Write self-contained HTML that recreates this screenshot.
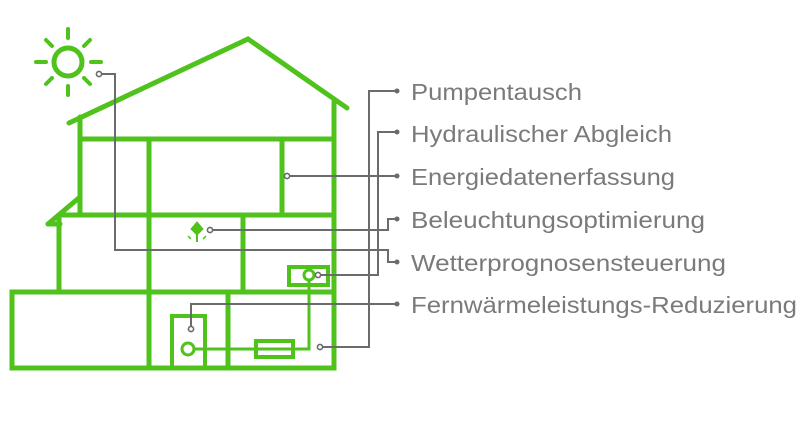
<!DOCTYPE html>
<html><head><meta charset="utf-8"><style>
html,body{margin:0;padding:0;background:#fff;}
svg{display:block;}
text{font-family:"Liberation Sans",sans-serif;font-size:23px;fill:#7a7a7a;}
</style></head><body>
<svg width="809" height="433" viewBox="0 0 809 433" xmlns="http://www.w3.org/2000/svg">
<g stroke="#4fc21c" stroke-width="5" fill="none" stroke-linecap="round">
  <circle cx="68" cy="62" r="14"/>
  <g stroke-width="4">
  <line x1="68" y1="29" x2="68" y2="38"/><line x1="68" y1="86" x2="68" y2="95"/>
  <line x1="36" y1="62" x2="46" y2="62"/><line x1="91" y1="62" x2="101" y2="62"/>
  <line x1="46" y1="40" x2="52" y2="46"/><line x1="84" y1="78" x2="90" y2="84"/>
  <line x1="46" y1="84" x2="52" y2="78"/><line x1="84" y1="46" x2="90" y2="40"/>
  </g>
  <polyline points="69,123 248,39 347,108"/>
  <line x1="334" y1="102" x2="334" y2="368"/>
  <line x1="80" y1="117" x2="80" y2="215"/>
  <line x1="80" y1="139" x2="334" y2="139"/>
  <line x1="60" y1="215" x2="334" y2="215"/>
  <line x1="149" y1="139" x2="149" y2="368"/>
  <line x1="282" y1="139" x2="282" y2="215"/>
  <line x1="59" y1="215" x2="59" y2="292"/>
  <polyline points="48,224 80,197"/>
  <line x1="48" y1="224" x2="60" y2="224"/>
  <line x1="243" y1="215" x2="243" y2="292"/>
  <rect x="12" y="292" width="322" height="76"/>
  <line x1="228" y1="292" x2="228" y2="368"/>
  <rect x="172" y="316" width="33" height="52" stroke-width="4"/>
  <circle cx="188" cy="349" r="6" stroke-width="3"/>
  <rect x="256" y="341" width="37" height="16" stroke-width="4"/>
  <polyline points="194,349 309,349 309,280" stroke-width="3"/>
  <rect x="289" y="267" width="39" height="18" stroke-width="4"/>
  <circle cx="309" cy="275" r="5" stroke-width="3"/>
</g>
<g fill="#4fc21c" stroke="#4fc21c">
  <polygon points="197,222 203,229 197,235 191,229" stroke-width="1"/>
  <line x1="197" y1="235" x2="197" y2="242" stroke-width="2"/>
  <line x1="188" y1="236" x2="191" y2="239" stroke-width="1.5"/>
  <line x1="206" y1="236" x2="203" y2="239" stroke-width="1.5"/>
</g>
<g stroke="#6b6b6b" stroke-width="2" fill="none">
  <polyline points="323,347 369,347 369,91 397,91"/>
  <polyline points="321,275 378,275 378,132 397,132"/>
  <polyline points="290,176 397,176"/>
  <polyline points="213,230 388,230 388,219 397,219"/>
  <polyline points="102,74 115,74 115,250 388,250 388,262 397,262"/>
  <polyline points="191,326 191,304 397,304"/>
</g>
<g stroke="#6b6b6b" stroke-width="1.6" fill="#fff">
  <circle cx="320" cy="347" r="2.6"/>
  <circle cx="318" cy="275" r="2.6"/>
  <circle cx="287" cy="176" r="2.6"/>
  <circle cx="210" cy="230" r="2.6"/>
  <circle cx="99" cy="74" r="2.6"/>
  <circle cx="191" cy="329" r="2.6"/>
</g>
<g fill="#6b6b6b">
  <circle cx="397" cy="91" r="2.5"/><circle cx="397" cy="132" r="2.5"/>
  <circle cx="397" cy="176" r="2.5"/><circle cx="397" cy="219" r="2.5"/>
  <circle cx="397" cy="262" r="2.5"/><circle cx="397" cy="304" r="2.5"/>
</g>
<text x="411" y="100" textLength="171" lengthAdjust="spacingAndGlyphs">Pumpentausch</text>
<text x="411" y="142" textLength="261" lengthAdjust="spacingAndGlyphs">Hydraulischer Abgleich</text>
<text x="411" y="185" textLength="264" lengthAdjust="spacingAndGlyphs">Energiedatenerfassung</text>
<text x="411" y="228" textLength="294" lengthAdjust="spacingAndGlyphs">Beleuchtungsoptimierung</text>
<text x="411" y="271" textLength="315" lengthAdjust="spacingAndGlyphs">Wetterprognosensteuerung</text>
<text x="411" y="313" textLength="386" lengthAdjust="spacingAndGlyphs">Fernwärmeleistungs-Reduzierung</text>
</svg>
</body></html>
